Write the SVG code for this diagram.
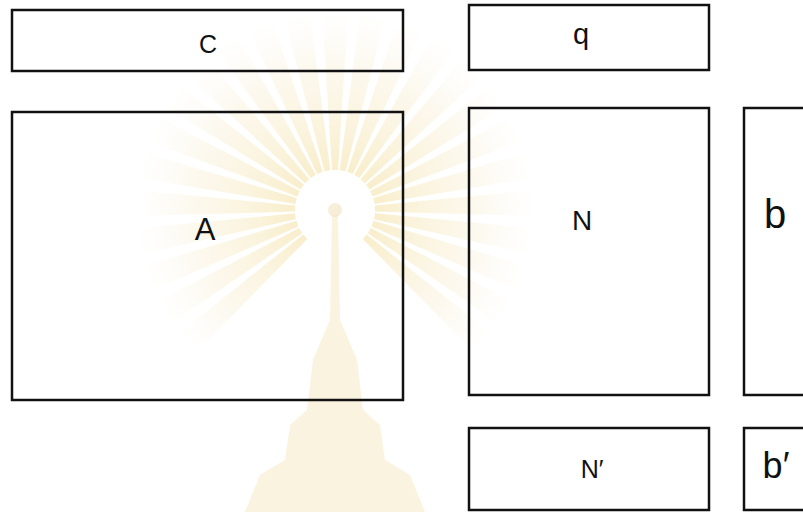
<svg xmlns="http://www.w3.org/2000/svg" xmlns:xlink="http://www.w3.org/1999/xlink" width="803" height="512" viewBox="0 0 803 512">
  <style>
    .box { fill: none; stroke: #111; stroke-width: 2.5; stroke-linejoin: miter; }
    .lbl { font-family: "Liberation Sans", Arial, sans-serif; fill: #111; text-anchor: middle; }
  </style>
  <defs>
    <radialGradient id="rayg" gradientUnits="userSpaceOnUse" cx="0" cy="0" r="200">
      <stop offset="0.2" stop-color="#f1da8e" stop-opacity="0.45"/>
      <stop offset="0.7" stop-color="#f4e4b8" stop-opacity="0.25"/>
      <stop offset="1" stop-color="#f6ead0" stop-opacity="0"/>
    </radialGradient>
    <polygon id="ray" points="-3,-40 3,-40 13,-200 -13,-200" fill="url(#rayg)"/>
  </defs>
  <rect width="803" height="512" fill="#ffffff"/>

  <g id="watermark" transform="translate(335,210)">
    <use xlink:href="#ray" transform="rotate(0)"/>
    <use xlink:href="#ray" transform="rotate(11)"/>
    <use xlink:href="#ray" transform="rotate(22)"/>
    <use xlink:href="#ray" transform="rotate(33)"/>
    <use xlink:href="#ray" transform="rotate(44)"/>
    <use xlink:href="#ray" transform="rotate(55)"/>
    <use xlink:href="#ray" transform="rotate(66)"/>
    <use xlink:href="#ray" transform="rotate(77)"/>
    <use xlink:href="#ray" transform="rotate(88)"/>
    <use xlink:href="#ray" transform="rotate(99)"/>
    <use xlink:href="#ray" transform="rotate(110)"/>
    <use xlink:href="#ray" transform="rotate(121)"/>
    <use xlink:href="#ray" transform="rotate(132)"/>
    <use xlink:href="#ray" transform="rotate(228)"/>
    <use xlink:href="#ray" transform="rotate(239)"/>
    <use xlink:href="#ray" transform="rotate(250)"/>
    <use xlink:href="#ray" transform="rotate(261)"/>
    <use xlink:href="#ray" transform="rotate(272)"/>
    <use xlink:href="#ray" transform="rotate(283)"/>
    <use xlink:href="#ray" transform="rotate(294)"/>
    <use xlink:href="#ray" transform="rotate(305)"/>
    <use xlink:href="#ray" transform="rotate(316)"/>
    <use xlink:href="#ray" transform="rotate(327)"/>
    <use xlink:href="#ray" transform="rotate(338)"/>
    <use xlink:href="#ray" transform="rotate(349)"/>
    <circle cx="0" cy="0" r="7" fill="#f0e2c0" opacity="0.6"/>
    <path d="M -3 5 L -5 110 L -22 150 L -28 200 L -45 215 L -50 250 L -75 265 L -90 302 L 90 302 L 75 265 L 50 250 L 45 215 L 28 200 L 22 150 L 5 110 L 3 5 Z" fill="#f2e1ae" opacity="0.4"/>
  </g>

  <g id="node-c">
    <rect class="box" x="12" y="10" width="391" height="61"/>
    <text class="lbl" x="208" y="53" font-size="25">C</text>
  </g>
  <g id="node-q">
    <rect class="box" x="469" y="5" width="240" height="65"/>
    <text class="lbl" x="581" y="44" font-size="29">q</text>
  </g>
  <g id="node-A">
    <rect class="box" x="12" y="112" width="391" height="288"/>
    <text class="lbl" x="205" y="240" font-size="31">A</text>
  </g>
  <g id="node-N">
    <rect class="box" x="469" y="108" width="240" height="287"/>
    <text class="lbl" x="582" y="230" font-size="28">N</text>
  </g>
  <g id="node-b">
    <path class="box" d="M 806 108 H 744 V 395 H 806"/>
    <text class="lbl" x="775" y="228" font-size="40">b</text>
  </g>
  <g id="node-N-prime">
    <rect class="box" x="469" y="428" width="240" height="82"/>
    <text class="lbl" x="592" y="478" font-size="25">N′</text>
  </g>
  <g id="node-b-prime">
    <path class="box" d="M 806 428 H 744 V 510 H 806"/>
    <text class="lbl" x="776" y="478" font-size="36">b′</text>
  </g>
  <g id="connectors"></g>
</svg>
